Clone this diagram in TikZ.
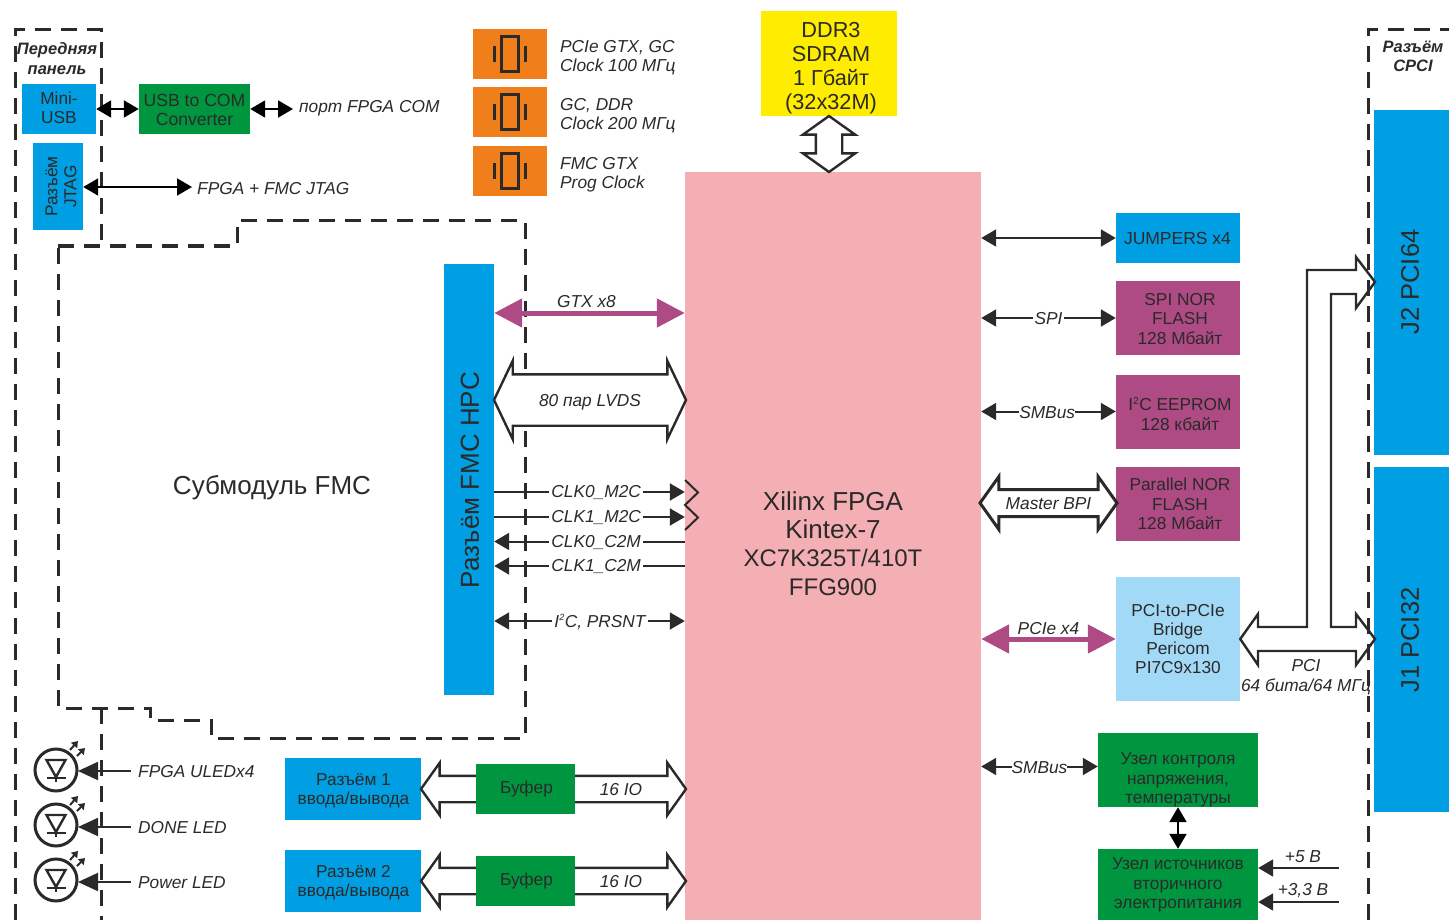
\documentclass[tikz,border=0pt]{standalone}
\usepackage{fontspec}
\setmainfont{Liberation Sans}
\usepackage{xcolor}
\usetikzlibrary{shapes.arrows, arrows.meta, positioning, calc}
\definecolor{inkcol}{HTML}{2B2A29}
\definecolor{bluecol}{HTML}{009FE3}
\definecolor{greencol}{HTML}{009640}
\definecolor{magcol}{HTML}{AE4A84}
\definecolor{pinkcol}{HTML}{F4AFB5}
\definecolor{orangecol}{HTML}{F07F1B}
\definecolor{yellowcol}{HTML}{FFED00}
\definecolor{skycol}{HTML}{A2D9F7}

\begin{document}
\begin{tikzpicture}[
    x=1pt, y=-1pt,
    box/.style={rectangle, inner sep=0pt, align=center, text=inkcol, font=\fontsize{17.3}{19.2}\selectfont},
    tag/.style={inner sep=0pt, align=center, text=inkcol, font=\fontsize{17.3}{19}\selectfont\itshape},
    linetag/.style={tag, fill=white, inner xsep=2pt, inner ysep=1pt, yshift=-1pt},
    dashline/.style={draw=inkcol, line width=3pt, dash pattern=on 16pt off 10pt},
    biarrow/.style={{Triangle[length=15pt,width=17pt]}-{Triangle[length=15pt,width=17pt]}, line width=2pt, draw=inkcol},
    oneway/.style={-{Triangle[length=15pt,width=17pt]}, line width=2pt, draw=inkcol},
    ledarrow/.style={-{Triangle[length=20pt,width=18pt]}, line width=2pt, draw=inkcol},
    blackarrow/.style={{Triangle[length=15pt,width=17pt]}-{Triangle[length=15pt,width=17pt]}, line width=2pt, draw=black},
    magarrow/.style={{Triangle[length=28pt,width=28pt]}-{Triangle[length=28pt,width=28pt]}, line width=5pt, draw=magcol},
    fatarrow/.style={double arrow, draw=inkcol, fill=white, line width=2.4pt, inner sep=0pt, text=inkcol,
        font=\fontsize{17.3}{19}\selectfont\itshape, text height=18pt, text depth=6pt,
        double arrow head extend=13pt, double arrow tip angle=109},
    xtal/.pic={
        \draw[draw=inkcol, line width=3pt] (-8.5,-17.5) rectangle (8.5,17.5);
        \draw[draw=inkcol, line width=3pt] (-15.5,-8) -- (-15.5,8);
        \draw[draw=inkcol, line width=3pt] (15,-8) -- (15,8);
    },
    led/.pic={
        \draw[draw=inkcol, line width=3pt] (0,0) circle (21);
        \draw[draw=inkcol, line width=2.4pt] (-9.5,-10) -- (9.5,-10) -- (0,7) -- cycle;
        \draw[draw=inkcol, line width=2.4pt] (-9.5,8) -- (9.5,8);
        \draw[draw=inkcol, line width=2.4pt] (0,7) -- (0,12);
        \draw[-{Triangle[length=6pt,width=8pt]}, draw=inkcol, line width=2pt] (14,-20) -- (22,-29);
        \draw[-{Triangle[length=6pt,width=8pt]}, draw=inkcol, line width=2pt] (21,-14) -- (29,-22);
    },
]
\useasboundingbox (0,0) rectangle (1451,920);

% front panel and FMC outline
\draw[dashline] (15,920) -- (15,30) -- (101,30) -- (101,246);
\draw[dashline] (101,708) -- (101,920);
\draw[dashline] (58,246) -- (237,246) -- (237,221) -- (525,221) -- (525,738) -- (211,738) -- (211,720) -- (150,720) -- (150,708) -- (58,708) -- cycle;

\node[tag, font=\fontsize{16.5}{20}\selectfont\bfseries\itshape] (front) at (57,59) {Передняя\\панель};
\node[tag, font=\fontsize{16.5}{19}\selectfont\bfseries\itshape] (cpci) at (1413,56) {Разъём\\CPCI};

\node[box, fill=pinkcol, minimum width=296pt, minimum height=748pt] (fpga) at (833,546) {};
\node[box, font=\fontsize{24}{28.2}\selectfont] (fpgatext) at (833,543.5) {{\fontsize{26}{28.2}\selectfont Xilinx FPGA}\\{\fontsize{26}{28.2}\selectfont Kintex-7}\\XC7K325T/410T\\FFG900};

\node[box, fill=bluecol, minimum width=74pt, minimum height=50pt] (miniusb) at (59,109) {};
\node[box] (minitext) at (59,107.5) {Mini-\\USB};
\node[box, fill=greencol, minimum width=111pt, minimum height=50pt] (usbcom) at (194.5,109) {};
\node[box, font=\fontsize{17.6}{19.2}\selectfont] (usbtext) at (194.5,110) {USB to COM\\Converter};
\node[box, fill=bluecol, minimum width=50pt, minimum height=87pt] (jtag) at (58,186.5) {};
\node[box, rotate=90] (jtagtext) at (61,186.5) {Разъём\\JTAG};
\coordinate (comend) at (293,109);
\coordinate (jtagend) at (192,187);
\node[tag, anchor=west] (comtag) at (299,108.5) {порт FPGA COM};
\node[tag, anchor=west] (jtagtag) at (197,188.5) {FPGA + FMC JTAG};
\draw[blackarrow] (miniusb) -- (usbcom);
\draw[blackarrow] (usbcom) -- (comend);
\draw[blackarrow] (jtag.east |- jtagend) -- (jtagend);

% clocks
\node[box, fill=orangecol, minimum width=74pt, minimum height=50pt] (clka) at (510,54) {};
\node[box, fill=orangecol, minimum width=74pt, minimum height=50pt] (clkb) at (510,112) {};
\node[box, fill=orangecol, minimum width=74pt, minimum height=50pt] (clkc) at (510,171) {};
\pic at (clka) {xtal};
\pic at (clkb) {xtal};
\pic at (clkc) {xtal};
\node[tag, anchor=west, align=left] (clkatag) at (560,57.5) {PCIe GTX, GC\\Clock 100 МГц};
\node[tag, anchor=west, align=left] (clkbtag) at (560,115.5) {GC, DDR\\Clock 200 МГц};
\node[tag, anchor=west, align=left] (clkctag) at (560,174.5) {FMC GTX\\Prog Clock};

\node[box, fill=yellowcol, minimum width=136pt, minimum height=105pt] (ddr) at (829,63.5) {};
\node[box, font=\fontsize{21.7}{24.2}\selectfont] (ddrtext) at (831,68) {DDR3\\SDRAM\\1 Гбайт\\(32x32M)};
\node[fatarrow, rotate=90, minimum height=56pt] (ddrbus) at (829,144) {};

% FMC
\node[box, font=\fontsize{26}{30}\selectfont] (fmcmod) at (272,487.5) {Субмодуль FMC};
\node[box, fill=bluecol, minimum width=50pt, minimum height=431pt] (fmc) at (469,479.5) {};
\node[box, rotate=90, font=\fontsize{26}{30}\selectfont] (fmctext) at (470,480) {Разъём FMC HPC};

\draw[magarrow] (fmc.east |- 0,313) -- node[tag, above=3pt, xshift=-3pt] (gtxtag) {GTX x8} (fpga.west |- 0,313);
\node[fatarrow, minimum height=192pt, text height=30.75pt, text depth=18.25pt, double arrow head extend=13.5pt, double arrow tip angle=129] (lvds) at (590,400) {80 пар LVDS};

\draw[oneway] (fmc.east |- 0,492) -- node[linetag, pos=0.535] (clkatxt) {CLK0\_M2C} (fpga.west |- 0,492);
\draw[oneway] (fmc.east |- 0,517) -- node[linetag, pos=0.535] (clkbtxt) {CLK1\_M2C} (fpga.west |- 0,517);
\draw[oneway] (fpga.west |- 0,541.5) -- node[linetag, pos=0.465] (clkctxt) {CLK0\_C2M} (fmc.east |- 0,541.5);
\draw[oneway] (fpga.west |- 0,566) -- node[linetag, pos=0.465] (clkdtxt) {CLK1\_C2M} (fmc.east |- 0,566);
\draw[biarrow] (fmc.east |- 0,621) -- node[linetag, pos=0.555] (i2ctxt) {I\textsuperscript{\fontsize{9}{9}\selectfont 2}C, PRSNT} (fpga.west |- 0,621);
\draw[draw=inkcol, line width=2pt] (685,480) -- (698,492.5) -- (685,505) -- (698,517.5) -- (685,530);

% right side
\node[box, fill=bluecol, minimum width=124pt, minimum height=50pt] (jumpers) at (1178,238) {};
\node[box, font=\fontsize{17.5}{19.2}\selectfont] (jumptext) at (1177.5,238) {JUMPERS x4};
\node[box, fill=magcol, minimum width=124pt, minimum height=74pt] (spi) at (1178,318) {};
\node[box] (spitext) at (1180,319) {SPI NOR\\FLASH\\128 Мбайт};
\node[box, fill=magcol, minimum width=124pt, minimum height=74pt] (eeprom) at (1178,412) {};
\node[box] (eepromtext) at (1180,414) {I\textsuperscript{\fontsize{10}{10}\selectfont 2}C EEPROM\\128 кбайт};
\node[box, fill=magcol, minimum width=124pt, minimum height=74pt] (nor) at (1178,504) {};
\node[box] (nortext) at (1180,504) {Parallel NOR\\FLASH\\128 Мбайт};
\node[box, fill=skycol, minimum width=124pt, minimum height=124pt] (bridge) at (1178,639) {PCI-to-PCIe\\Bridge\\Pericom\\PI7C9x130};
\node[box, fill=greencol, minimum width=160pt, minimum height=74pt] (monitor) at (1178,770) {};
\node[box] (monitortext) at (1178,780) {Узел контроля\\напряжения,\\температуры};
\node[box, fill=greencol, minimum width=160pt, minimum height=74pt] (power) at (1178,886) {};
\node[box] (powertext) at (1178,885) {Узел источников\\вторичного\\электропитания};

\draw[biarrow] (fpga.east |- jumpers) -- (jumpers);
\draw[biarrow] (fpga.east |- spi) -- node[linetag] (spitxt) {SPI} (spi);
\draw[biarrow] (fpga.east |- 0,411.5) -- node[linetag, inner xsep=0pt, pos=0.49] (smbatxt) {SMBus} (eeprom.west |- 0,411.5);
\node[fatarrow, line width=3pt, minimum height=137pt] (bpi) at (1048.5,503) {Master BPI};
\draw[magarrow] (fpga.east |- bridge) -- node[tag, above=3pt, yshift=-1pt] (pcietag) {PCIe x4} (bridge);
\draw[biarrow] (fpga.east |- 0,766.5) -- node[linetag, inner xsep=0pt, pos=0.5] (smbbtxt) {SMBus} (monitor.west |- 0,766.5);
\draw[blackarrow] (monitor) -- (power);

\coordinate (fivev) at (1339,868);
\coordinate (threev) at (1339,902);
\draw[oneway] (fivev) -- (power.east |- fivev);
\draw[oneway] (threev) -- (power.east |- threev);
\node[tag] (fivetag) at (1303,857) {+5 В};
\node[tag] (threetag) at (1303,891) {+3,3 В};

% PCI bus
\node[box, fill=bluecol, minimum width=75pt, minimum height=345pt] (jtwo) at (1411.5,282.5) {};
\node[box, fill=bluecol, minimum width=75pt, minimum height=345pt] (jone) at (1411.5,639.5) {};
\node[box, rotate=90, font=\fontsize{25.5}{30}\selectfont] (jtwotext) at (1410,282) {J2 PCI64};
\node[box, rotate=90, font=\fontsize{25.5}{30}\selectfont] (jonetext) at (1410,640) {J1 PCI32};
\draw[draw=inkcol, fill=white, line width=2.4pt, line join=miter]
    (bridge.east) -- (1258,614) -- (1258,627) -- (1307,627) -- (1307,270) -- (1356,270) -- (1356,257) -- (1375,282)
    -- (1356,308) -- (1356,294) -- (1331,294) -- (1331,627) -- (1356,627) -- (1356,614) -- (1375,639)
    -- (1356,665) -- (1356,651) -- (1258,651) -- (1258,665) -- cycle;
\node[tag, font=\fontsize{17.3}{20}\selectfont\itshape] (pcitag) at (1306,677) {PCI\\64 бита/64 МГц};
\draw[dashline] (1368,920) -- (1368,30) -- (1449,30);

% IO connectors
\node[box, fill=bluecol, minimum width=136pt, minimum height=62pt] (ioa) at (353,789) {};
\node[box] (ioatext) at (353.5,791) {Разъём 1\\ввода/вывода};
\node[box, fill=bluecol, minimum width=136pt, minimum height=62pt] (iob) at (353,881) {};
\node[box] (iobtext) at (353.5,883) {Разъём 2\\ввода/вывода};
\node[fatarrow, minimum height=265pt] (busa) at (553.5,789) {};
\node[fatarrow, minimum height=265pt] (busb) at (553.5,881) {};
\node[box, fill=greencol, minimum width=99pt, minimum height=50pt] (bufa) at (525.5,789) {};
\node[box] (bufatext) at (526.5,789) {Буфер};
\node[box, fill=greencol, minimum width=99pt, minimum height=50pt] (bufb) at (525.5,881) {};
\node[box] (bufbtext) at (526.5,881) {Буфер};
\node[tag] (ioatag) at (621,790) {16 IO};
\node[tag] (iobtag) at (621,882) {16 IO};

% LEDs
\pic at (56,770) {led};
\pic at (56,825) {led};
\pic at (56,880) {led};
\node[tag, anchor=west] (leda) at (138,771.5) {FPGA ULEDx4};
\node[tag, anchor=west] (ledb) at (138,827.5) {DONE LED};
\node[tag, anchor=west] (ledc) at (138,882.5) {Power LED};
\coordinate (ledaend) at (78,771);
\coordinate (ledbend) at (78,827);
\coordinate (ledcend) at (78,882);
\draw[ledarrow] (131,771) -- (ledaend);
\draw[ledarrow] (131,827) -- (ledbend);
\draw[ledarrow] (131,882) -- (ledcend);
\end{tikzpicture}
\end{document}
